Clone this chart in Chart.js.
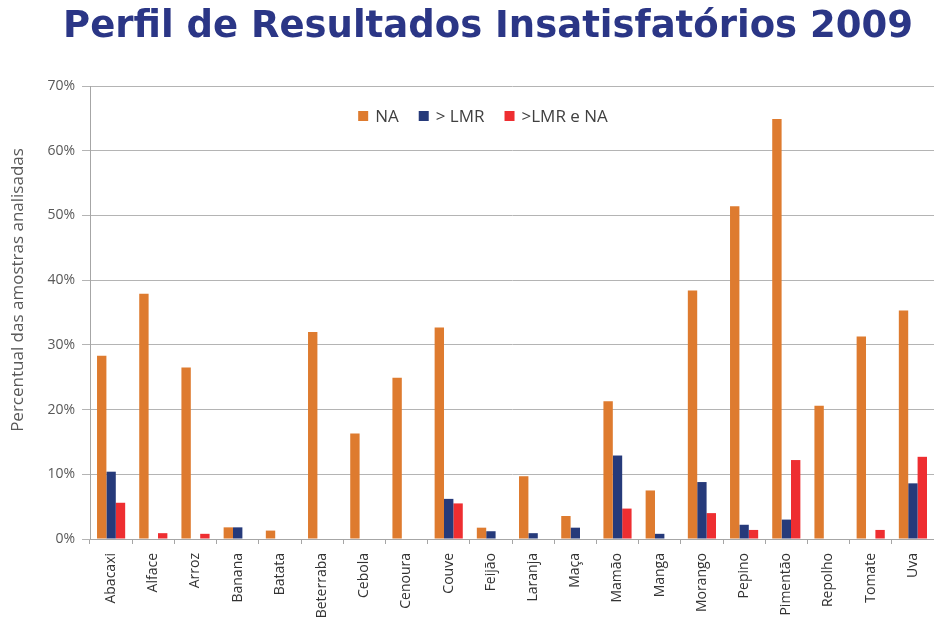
<!DOCTYPE html>
<html>
<head>
<meta charset="utf-8">
<script src="https://cdn.jsdelivr.net/npm/chart.js"></script>
<style>
  html, body { margin: 0; padding: 0; background: #fff; }
  #wrap { width: 934px; height: 621px; }
</style>
</head>
<body>
<div id="wrap"><canvas id="chart" width="934" height="621"></canvas></div>
<script>
const categories = ['Abacaxi', 'Alface', 'Arroz', 'Banana', 'Batata', 'Beterraba', 'Cebola', 'Cenoura', 'Couve', 'Feijão',
  'Laranja', 'Maça', 'Mamão', 'Manga', 'Morango', 'Pepino', 'Pimentão', 'Repolho', 'Tomate', 'Uva'];
const naValues    = [28.3, 37.9, 26.5, 1.8, 1.3, 32.0, 16.3, 24.9, 32.7, 1.75, 9.7, 3.55, 21.3, 7.5, 38.4, 51.4, 64.9, 20.6, 31.3, 35.3];
const lmrValues   = [10.4, 0, 0, 1.8, 0, 0, 0, 0, 6.2, 1.2, 0.9, 1.75, 12.9, 0.8, 8.8, 2.2, 3.0, 0, 0, 8.6];
const lmrNaValues = [5.6, 0.9, 0.8, 0, 0, 0, 0, 0, 5.5, 0, 0, 0, 4.7, 0, 4.0, 1.4, 12.2, 0, 1.4, 12.7];
const yTicks = [0, 10, 20, 30, 40, 50, 60, 70];

const titleText = 'Perfil de Resultados Insatisfatórios 2009';
const yTitleText = 'Percentual das amostras analisadas';

// slide title + y axis title, both placed off-centre like the original
const extraText = {
  id: 'extraText',
  afterDraw(chart) {
    const ctx = chart.ctx;
    ctx.save();
    ctx.font = 'bold 37px "DejaVu Sans"';
    ctx.fillStyle = '#2B3686';
    ctx.textAlign = 'center';
    ctx.textBaseline = 'alphabetic';
    ctx.fillText(titleText, 488, 37);

    ctx.translate(18, 290);
    ctx.rotate(-Math.PI / 2);
    ctx.font = '17px "Open Sans"';
    ctx.fillStyle = '#595959';
    ctx.textBaseline = 'middle';
    ctx.fillText(yTitleText, 0, 0);
    ctx.restore();
  }
};

// legend sits inside the plot, one row, between the 70% and 60% lines
const innerLegend = {
  id: 'innerLegend',
  afterDatasetsDraw(chart) {
    const ctx = chart.ctx;
    const sets = chart.data.datasets;
    const box = 10, gap = 20, y = 116;
    ctx.save();
    ctx.font = '17px "Open Sans"';
    const widths = sets.map(d => box + 7 + ctx.measureText(d.label).width);
    const total = widths.reduce((a, b) => a + b, 0) + gap * (sets.length - 1);
    let x = 483 - total / 2;
    ctx.textBaseline = 'middle';
    sets.forEach((d, i) => {
      ctx.fillStyle = d.backgroundColor;
      ctx.fillRect(x, y - box / 2, box, box);
      ctx.fillStyle = '#404040';
      ctx.fillText(d.label, x + box + 7, y + 1);
      x += widths[i] + gap;
    });
    ctx.restore();
  }
};

new Chart(document.getElementById('chart'), {
  type: 'bar',
  data: {
    labels: categories,
    datasets: [
      { label: 'NA', data: naValues, backgroundColor: '#DE7B2F' },
      { label: '> LMR', data: lmrValues, backgroundColor: '#263A7A' },
      { label: '>LMR e NA', data: lmrNaValues, backgroundColor: '#EE2E31' }
    ]
  },
  options: {
    responsive: false,
    animation: false,
    layout: { padding: { top: 86, right: 0, left: 0, bottom: 0 } },
    datasets: { bar: { categoryPercentage: 0.667, barPercentage: 1.0 } },
    plugins: {
      legend: { display: false },
      tooltip: { enabled: false }
    },
    scales: {
      x: {
        offset: true,
        grid: { offset: true, drawOnChartArea: false, color: '#A6A6A6', tickLength: 5 },
        border: { color: '#A6A6A6' },
        ticks: {
          minRotation: 90, maxRotation: 90, autoSkip: false, padding: 9,
          color: '#333333',
          font: { family: 'Open Sans', size: 14 }
        },
        afterFit(scale) {
          scale.height = 82;
          scale.paddingRight = 0;
        }
      },
      y: {
        min: 0, max: 70,
        afterBuildTicks(scale) { scale.ticks = yTicks.map(v => ({ value: v })); },
        grid: { color: '#B4B4B4', tickLength: 8 },
        border: { color: '#A6A6A6' },
        ticks: {
          padding: 7,
          color: '#595959',
          font: { family: 'Open Sans', size: 14 },
          callback: v => v + '%'
        },
        afterFit(scale) { scale.width = 90; }
      }
    }
  },
  plugins: [extraText, innerLegend]
});
</script>
</body>
</html>
